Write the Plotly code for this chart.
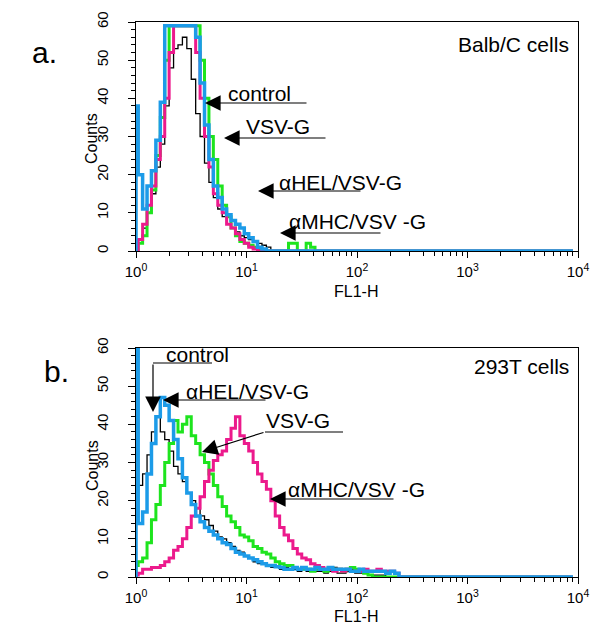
import plotly.graph_objects as go

# ---------------- data ----------------
# FL1-H channel values (histogram bin centres, log-spaced)
FL1_CHANNELS = [1.000, 1.096, 1.202, 1.318, 1.445, 1.585, 1.738, 1.905, 2.089, 2.291,
                2.512, 2.754, 3.020, 3.311, 3.631, 3.981, 4.365, 4.786, 5.248, 5.754,
                6.310, 6.918, 7.586, 8.318, 9.120, 10.00, 10.96, 12.02, 13.18, 14.45,
                15.85, 17.38, 19.05, 20.89, 22.91, 25.12, 27.54, 30.20, 33.11, 36.31,
                39.81, 43.65, 47.86, 52.48, 57.54, 63.10, 69.18, 75.86, 83.18, 91.20,
                100.0, 109.6, 120.2, 131.8, 144.5, 158.5, 173.8, 190.5, 208.9, 229.1,
                251.2, 9000.0]

# a. Balb/C cells
balb_control = [1, 3, 6, 10, 15, 22, 28, 38, 48, 53,
                54, 56, 53, 45, 36, 30, 23, 18, 14, 11,
                9, 7, 6, 5, 4, 3.5, 3, 2.5, 2, 1.5,
                1, 0, 0, 0, 0, 0, 0, 0, 0, 0,
                0, 0, 0, 0, 0, 0, 0, 0, 0, 0,
                0, 0, 0, 0, 0, 0, 0, 0, 0, 0,
                0, 0]
balb_vsvg = [0, 2, 4, 10, 16, 25, 35, 50, 59, 59,
             59, 59, 59, 59, 59, 50, 40, 30, 24, 17,
             12, 9, 6, 4, 2.5, 2, 1.5, 1, 0.5, 0,
             0, 0, 0, 0, 0, 2, 2, 0, 0, 2,
             1, 0, 0, 0, 0, 0, 0, 0, 0, 0,
             0, 0, 0, 0, 0, 0, 0, 0, 0, 0,
             0, 0]
balb_mhc = [0, 3, 7, 12, 17, 24, 30, 40, 52, 59,
            59, 59, 59, 59, 52, 40, 30, 22, 15, 12,
            10, 7, 6, 4.5, 3, 2, 1, 0.5, 0, 0,
            0, 0, 0, 0, 0, 0, 0, 0, 0, 0,
            0, 0, 0, 0, 0, 0, 0, 0, 0, 0,
            0, 0, 0, 0, 0, 0, 0, 0, 0, 0,
            0, 0]
balb_hel = [38, 20, 11, 17, 21, 29, 39, 59, 59, 59,
            59, 59, 59, 59, 56, 44, 33, 24, 17, 14,
            11, 9.5, 8, 7, 6, 4.5, 3.5, 2.5, 1, 0.5,
            0, 0, 0, 0, 0, 0, 0, 0, 0, 0,
            0, 0, 0, 0, 0, 0, 0, 0, 0, 0,
            0, 0, 0, 0, 0, 0, 0, 0, 0, 0,
            0, 0]

# b. 293T cells
t293_control = [22, 24, 27, 32, 38, 42, 38, 36, 33, 29,
                27, 25, 22, 20, 18, 16, 15, 13.5, 12, 10.5,
                10, 9, 8, 7, 6.5, 5.5, 5, 4, 3.5, 3.5,
                3, 2.5, 2.5, 2, 2.5, 2, 2, 1.5, 2, 1.5,
                1.5, 1.5, 1.5, 1, 1.5, 2.5, 1, 1, 1.5, 2,
                1, 1, 1, 0.5, 0.5, 0.5, 0.5, 0, 0, 0,
                0, 0]
t293_vsvg = [3, 4, 5, 9, 15, 19, 24, 30, 35, 41,
             38, 40, 42, 37, 35, 32, 30, 27, 24, 21,
             18.5, 16, 14.5, 13, 11, 10.5, 9.5, 8, 7.5, 6.5,
             6, 5, 4, 3.5, 3, 3, 2.5, 2, 2, 2,
             1.5, 2, 2, 1.5, 2.5, 2, 2, 1.5, 2, 2.5,
             2, 1.5, 1, 0.5, 0, 0, 0, 0, 0, 0,
             0, 0]
t293_mhc = [0.5, 1, 2, 2, 2.5, 2.5, 3, 4, 5, 7,
            8, 10, 13, 16, 18, 21, 25, 28, 30.5, 32,
            33, 36, 39, 42, 37, 35, 33, 30, 27, 25,
            23, 20, 16, 13, 11, 9.5, 7.5, 6, 5, 4.5,
            3.5, 3, 2.5, 2, 2, 1.5, 2, 1.5, 2, 1.5,
            1.5, 1.5, 2, 1.5, 1.5, 2, 1.5, 1.5, 1.5, 1,
            0, 0]
t293_hel = [60, 14, 17, 27, 35, 42, 47, 45, 41, 36,
            31, 26, 22, 19, 16, 14.5, 13, 12, 11, 10,
            9, 8.5, 7.5, 6.5, 6, 5.5, 5, 4.5, 4, 3.5,
            3, 3, 2.7, 2.5, 2, 2, 2.5, 2, 2.5, 2,
            2, 2.5, 2, 2, 2.5, 2, 2, 2, 2, 1.5,
            1.5, 2, 1.5, 1.5, 1.5, 1.5, 1.5, 1, 1.5, 1,
            0, 0]

SERIES_NAMES = ["control", "VSV-G", "αMHC/VSV -G", "αHEL/VSV-G"]
SERIES_COLORS = ["#000000", "#1EE41E", "#EC1A8C", "#1C9BE8"]
SERIES_WIDTHS = [1.3, 3, 3, 3.5]

X_TICKS = [1, 10, 100, 1000, 10000]
X_TICKTEXT = ["10<sup>0</sup>", "10<sup>1</sup>", "10<sup>2</sup>", "10<sup>3</sup>", "10<sup>4</sup>"]
X_MINOR = [m * d for d in (1, 10, 100, 1000) for m in range(2, 10)]
Y_TICKS = [0, 10, 20, 30, 40, 50, 60]

PANEL_LABELS = ["a.", "b."]
CELL_LABELS = ["Balb/C cells", "293T cells"]

FONT = "Arial, Liberation Sans, sans-serif"
W, H = 600, 625

# ---------------- figure ----------------
fig = go.Figure()

panels = [
    ("x", "y", [balb_control, balb_vsvg, balb_mhc, balb_hel]),
    ("x2", "y2", [t293_control, t293_vsvg, t293_mhc, t293_hel]),
]
for xa, ya, series in panels:
    for name, col, wd, counts in zip(SERIES_NAMES, SERIES_COLORS, SERIES_WIDTHS, series):
        # close the histogram outline at the baseline on the left
        fig.add_trace(go.Scatter(
            x=[FL1_CHANNELS[0]] + FL1_CHANNELS, y=[0] + counts,
            mode="lines", line=dict(color=col, width=wd, shape="hvh"),
            name=name, showlegend=False, xaxis=xa, yaxis=ya, hoverinfo="skip"))

xd = [136 / W, 578 / W]
top_y = [1 - 251 / H, 1 - 22 / H]
bot_y = [1 - 577 / H, 1 - 348 / H]

xcommon = dict(type="log", range=[0, 4], tickvals=X_TICKS, ticktext=X_TICKTEXT,
               ticks="outside", ticklen=6, tickwidth=1.2, tickcolor="black",
               showline=True, linecolor="black", linewidth=1.3, mirror=True,
               showgrid=False, zeroline=False, automargin=False,
               ticklabelstandoff=1,
               tickfont=dict(family=FONT, size=15, color="black"),
               minor=dict(tickvals=X_MINOR, ticks="outside", ticklen=4,
                          tickwidth=1, tickcolor="black", showgrid=False),
               domain=xd)
ycommon = dict(range=[0, 60], tickvals=Y_TICKS, ticks="outside", ticklen=7,
               tickwidth=1.2, tickcolor="black", tickangle=-90,
               showline=True, linecolor="black", linewidth=1.3, mirror=True,
               showgrid=False, zeroline=False, automargin=False,
               ticklabelstandoff=14,
               tickfont=dict(family=FONT, size=15, color="black"),
               minor=dict(dtick=2, ticks="outside", ticklen=4, tickwidth=1,
                          tickcolor="black", showgrid=False))

fig.update_layout(
    template="none",
    width=W, height=H, margin=dict(l=0, r=0, t=0, b=0, autoexpand=False),
    paper_bgcolor="white", plot_bgcolor="white", showlegend=False,
    xaxis=dict(xcommon, anchor="y"),
    yaxis=dict(ycommon, domain=top_y, anchor="x"),
    xaxis2=dict(xcommon, anchor="y2"),
    yaxis2=dict(ycommon, domain=bot_y, anchor="x2"),
)


def P(px, py):
    return px / W, 1 - py / H


def label(text, px, py, size=21, xanchor="left", yanchor="middle", angle=0):
    x, y = P(px, py)
    return dict(text=text, x=x, y=y, xref="paper", yref="paper", showarrow=False,
                xanchor=xanchor, yanchor=yanchor, textangle=angle,
                font=dict(family=FONT, size=size, color="black"))


def arrow(tip, tail):
    x, y = P(*tip)
    return dict(text="", x=x, y=y, xref="paper", yref="paper",
                ax=tail[0] - tip[0], ay=tail[1] - tip[1],
                showarrow=True, arrowhead=2, arrowsize=2.6, arrowwidth=1.2,
                arrowcolor="black", standoff=0)


def hline(p0, p1):
    x0, y0 = P(*p0)
    x1, y1 = P(*p1)
    return dict(type="line", xref="paper", yref="paper", x0=x0, y0=y0, x1=x1, y1=y1,
                line=dict(color="black", width=1.2))


ann = [
    label(PANEL_LABELS[0], 30, 53, size=30),
    label(PANEL_LABELS[1], 42, 372, size=30),
    label(CELL_LABELS[0], 571, 45, xanchor="right"),
    label(CELL_LABELS[1], 571, 366, xanchor="right"),
    label("Counts", 92, 139, size=16, xanchor="center", angle=-90),
    label("Counts", 92, 466, size=16, xanchor="center", angle=-90),
    label("FL1-H", 356, 291, size=16, xanchor="center"),
    label("FL1-H", 356, 616, size=16, xanchor="center"),
    # top panel
    label(SERIES_NAMES[0], 226, 93),
    arrow((205, 103), (308, 103)),
    label(SERIES_NAMES[1], 244, 126),
    arrow((224, 138), (327, 138)),
    label(SERIES_NAMES[3], 277, 182),
    arrow((258, 191), (362, 191)),
    label(SERIES_NAMES[2], 287, 222),
    arrow((280, 233), (382, 233)),
    # bottom panel
    label(SERIES_NAMES[0], 164, 355),
    arrow((153, 412), (153, 363)),
    label(SERIES_NAMES[3], 184, 391),
    arrow((163, 400), (267, 400)),
    label(SERIES_NAMES[1], 264, 420),
    arrow((202, 452), (265, 432)),
    label(SERIES_NAMES[2], 286, 489),
    arrow((270, 499), (395, 499)),
]
shapes = [
    hline((153, 363), (212, 363)),
    hline((265, 432), (343, 432)),
]
fig.update_layout(annotations=ann, shapes=shapes)

fig.write_html("out.html", config={"displayModeBar": False},
               post_script="document.body.style.margin='0';document.body.style.padding='0';")
